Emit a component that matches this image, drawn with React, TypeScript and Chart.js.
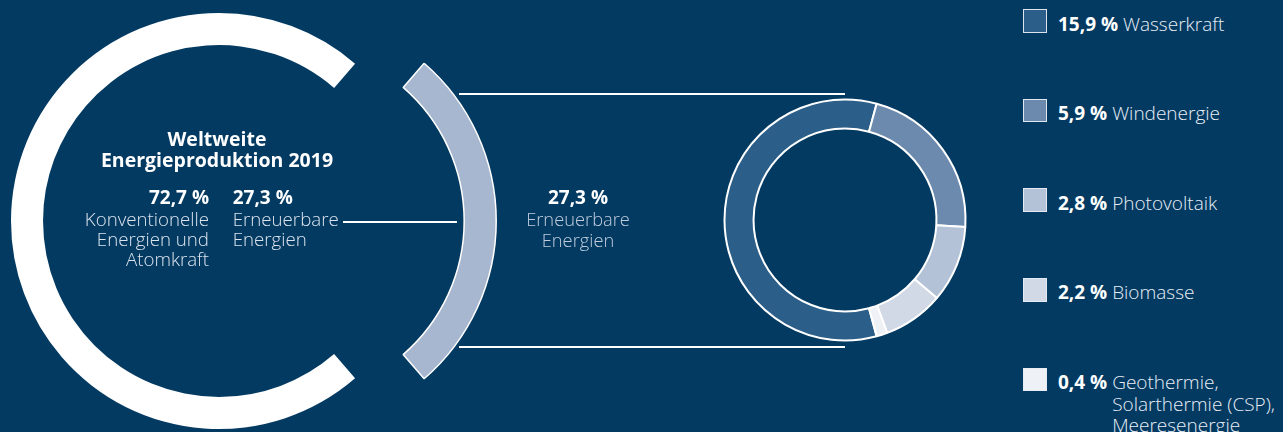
import React, { useEffect, useRef } from "react";
import { Chart, registerables } from "chart.js";

Chart.register(...registerables);

// ---------- data ----------
const shareLabels = ["Konventionelle Energien und Atomkraft", "Erneuerbare Energien"];
const shareLabelLines = [["Konventionelle", "Energien und", "Atomkraft"], ["Erneuerbare", "Energien"]];
const shareValues = [72.7, 27.3];
const shareColors = ["#ffffff", "#a7b7cf"];

const renewLabels = ["Wasserkraft", "Windenergie", "Photovoltaik", "Biomasse", "Geothermie, Solarthermie (CSP), Meeresenergie"];
const renewLabelLines = [["Wasserkraft"], ["Windenergie"], ["Photovoltaik"], ["Biomasse"], ["Geothermie,", "Solarthermie (CSP),", "Meeresenergie"]];
const renewValues = [15.9, 5.9, 2.8, 2.2, 0.4];
const renewColors = ["#2b5e88", "#6b8aae", "#b3c2d7", "#d2d9e6", "#eef2f7"];

const titleLines = ["Weltweite", "Energieproduktion 2019"];

// ---------- styling ----------
const W = 1283;
const H = 432;
const BG = "#033a62";
const FONT = "'Open Sans', 'Noto Sans', sans-serif";
const ASC = 1.069;
const NAT = 1.362;

function fmt(v: number) {
  return v.toFixed(1).replace(".", ",") + " %";
}

type TxtProps = {
  x: number;
  y: number; // baseline of first line
  size: number;
  lh?: number;
  weight?: number;
  color?: string;
  align?: "left" | "right" | "center";
  children: React.ReactNode;
};

function Txt({ x, y, size, lh, weight = 400, color = "#ffffff", align = "left", children }: TxtProps) {
  const L = lh ?? NAT * size;
  const style: React.CSSProperties = {
    position: "absolute",
    top: y - ((L - NAT * size) / 2 + ASC * size),
    fontFamily: FONT,
    fontSize: size,
    fontWeight: weight,
    color,
    lineHeight: `${L}px`,
    whiteSpace: "nowrap",
    textAlign: align,
  };
  if (align === "left") style.left = x;
  else if (align === "right") style.right = W - x;
  else {
    style.left = x;
    style.transform = "translateX(-50%)";
  }
  return <div style={style}>{children}</div>;
}

function lines(arr: string[]) {
  return arr.map((s, i) => (
    <React.Fragment key={i}>
      {i > 0 && <br />}
      {s}
    </React.Fragment>
  ));
}

function HLine({ x1, x2, y, t = 2 }: { x1: number; x2: number; y: number; t?: number }) {
  return <div style={{ position: "absolute", left: x1, top: y - t / 2, width: x2 - x1, height: t, background: "#ffffff" }} />;
}

export default function App() {
  const leftRef = useRef<HTMLCanvasElement>(null);
  const rightRef = useRef<HTMLCanvasElement>(null);

  useEffect(() => {
    document.body.style.margin = "0";
    const shareTotal = shareValues.reduce((a, b) => a + b, 0);
    const renewTotal = renewValues.reduce((a, b) => a + b, 0);

    const left = new Chart(leftRef.current!, {
      type: "doughnut",
      data: {
        labels: shareLabels,
        datasets: [
          {
            data: shareValues,
            backgroundColor: shareColors,
            borderColor: "#ffffff",
            borderWidth: [0, 1.5],
            offset: [0, 274],
            hoverOffset: 0,
          },
        ],
      },
      options: {
        responsive: false,
        animation: false,
        events: [],
        radius: 208,
        cutout: "84.6%",
        rotation: 90 + (shareValues[1] / shareTotal) * 180,
        plugins: { legend: { display: false }, tooltip: { enabled: false } },
      } as any,
    });

    const right = new Chart(rightRef.current!, {
      type: "doughnut",
      data: {
        labels: renewLabels,
        datasets: [
          {
            data: renewValues,
            backgroundColor: renewColors,
            borderColor: "#ffffff",
            borderWidth: 2,
            hoverOffset: 0,
          },
        ],
      },
      options: {
        responsive: false,
        animation: false,
        events: [],
        radius: 120.5,
        cutout: "75.9%",
        rotation: 270 - (renewValues[0] / renewTotal) * 180,
        plugins: { legend: { display: false }, tooltip: { enabled: false } },
      } as any,
    });

    return () => {
      left.destroy();
      right.destroy();
    };
  }, []);

  const labelColor = "#dbe3ed";
  const midColor = "#bfccdc";
  const legendBase0 = 31.7;
  const legendStep = 89.6;

  return (
    <div style={{ position: "fixed", left: 0, top: 0, width: W, height: H, overflow: "hidden", background: BG }}>
      <canvas
        ref={leftRef}
        width={580}
        height={442}
        style={{ position: "absolute", left: 218.6 - 290, top: 220.5 - 221 }}
      />
      <canvas
        ref={rightRef}
        width={270}
        height={270}
        style={{ position: "absolute", left: 845 - 135, top: 219.5 - 135 }}
      />

      {/* connectors */}
      <HLine x1={343} x2={457} y={222} />
      <HLine x1={459} x2={845} y={94.3} t={1.8} />
      <HLine x1={459} x2={845} y={346.7} t={1.8} />

      {/* title */}
      <Txt x={217} y={147} size={19.5} lh={20.7} weight={700} align="center">
        {lines(titleLines)}
      </Txt>

      {/* left: conventional */}
      <Txt x={209} y={205} size={19} lh={20.6} weight={700} align="right">
        {fmt(shareValues[0])}
      </Txt>
      <Txt x={209} y={226} size={18.7} lh={20.4} weight={300} color={labelColor} align="right">
        {lines(shareLabelLines[0])}
      </Txt>

      {/* left: renewable */}
      <Txt x={232.7} y={205} size={19} lh={20.6} weight={700} align="left">
        {fmt(shareValues[1])}
      </Txt>
      <Txt x={232.7} y={226} size={18.7} lh={20.4} weight={300} color={labelColor} align="left">
        {lines(shareLabelLines[1])}
      </Txt>

      {/* middle */}
      <Txt x={578} y={205.7} size={19} weight={700} align="center">
        {fmt(shareValues[1])}
      </Txt>
      <Txt x={578} y={226.7} size={18.3} lh={20.4} weight={300} color={midColor} align="center">
        {lines(shareLabelLines[1])}
      </Txt>

      {/* legend */}
      {renewValues.map((v, i) => {
        const base = legendBase0 + legendStep * i;
        const size = 19;
        const L = 21.6;
        const top = base - ((L - NAT * size) / 2 + ASC * size);
        return (
          <React.Fragment key={i}>
            <div
              style={{
                position: "absolute",
                left: 1023,
                top: base - 22.5,
                width: 23.5,
                height: 23.5,
                boxSizing: "border-box",
                background: renewColors[i],
                border: "1.5px solid rgba(230,236,244,0.95)",
              }}
            />
            <div
              style={{
                position: "absolute",
                left: 1058,
                top,
                display: "flex",
                alignItems: "flex-start",
                fontFamily: FONT,
                fontSize: size,
                lineHeight: `${L}px`,
                whiteSpace: "nowrap",
                color: "#e8eef5",
              }}
            >
              <span style={{ fontWeight: 700, color: "#ffffff" }}>{fmt(v)}&nbsp;</span>
              <span style={{ fontWeight: 300 }}>{lines(renewLabelLines[i])}</span>
            </div>
          </React.Fragment>
        );
      })}
    </div>
  );
}
